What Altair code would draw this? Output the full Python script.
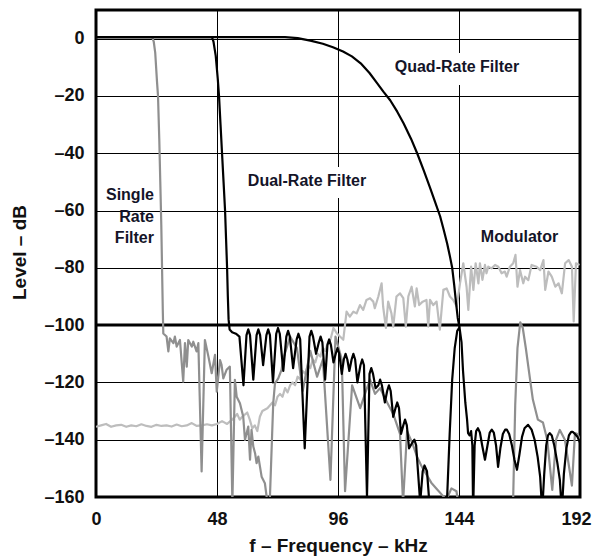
import altair as alt
import pandas as pd

# ---------------- data ----------------
freq_ticks = [0, 48, 96, 144, 192]
level_ticks = [0, -20, -40, -60, -80, -100, -120, -140, -160]

quad_x = [0, 75, 80, 85, 90, 94, 98, 101.5, 105, 108.5, 111.5, 114, 116.7, 119.5, 122, 125,
          127.4, 130, 132.5, 134.5, 136.5, 138, 139.3, 140.4, 141.3, 142.1, 142.8, 143.5, 144.2]
quad_y = [0.5, 0.5, 0.2, -0.7, -1.8, -3, -4.5, -6.2, -8.6, -12, -15.5, -18.5, -21.5, -25.5, -29.5, -35,
          -40, -46, -52, -57, -62, -67, -71.5, -76, -80, -86, -92, -97.5, -100.8]

dual_x = [0, 46, 46.6, 47.5, 48.3, 48.8, 49.4, 50, 50.6, 51.2, 51.6, 52, 52.3, 52.6, 53, 54, 55.5, 56.9,
          58.5, 59.7, 60.4, 61.1, 62.4, 63.7, 64.4, 65.1, 66.3, 67.6, 68.3, 69.0, 70.2, 71.5, 72.2, 72.9,
          74.3, 75.5, 76.2, 76.9, 78.2, 79.6, 80.3, 81.0, 82.8, 84.7, 85.4, 86.1, 87.3, 88.4, 89.1, 89.8,
          90.9, 91.8, 92.5, 93.2, 94.2, 95.1, 95.8, 96.5, 97.5, 98.3, 99.0, 99.7, 100.5, 101.4, 102.1, 102.8,
          103.7, 104.9, 105.6, 106.3, 107.5, 108.5, 109.2, 109.9, 110.9, 112.0, 112.7, 113.4, 114.6, 115.5,
          116.2, 116.9, 117.9, 118.8, 119.5, 120.2, 121.0, 121.9, 122.6, 123.3, 124.2, 125.5, 126.3, 127.0,
          128.6, 129.6, 130.3, 131.3, 132.5, 133.5, 138.5,
          139.3, 140.3, 141.3, 142.3, 143.3, 144.2, 145, 145.6, 146.5, 147.2, 147.6,
          148.2, 148.8, 149.3, 149.6, 150.2, 150.8, 151.5, 152.3, 153.2, 154.3, 155.3, 156.2, 157, 157.8,
          158.7, 159.5, 160.4, 161.4, 162.3, 163, 163.9, 165, 166, 167, 168, 169, 170, 171.4, 172.8, 174,
          175.2, 176.2, 177, 177.8, 178.6, 179.3, 180, 180.8, 181.8, 183, 184, 184.8, 185.6, 186.6, 187.6,
          188.5, 189.2, 190, 191, 192]
dual_y = [0.5, 0.5, -1, -6, -14, -20, -30, -40, -50, -60, -70, -80, -90, -98, -101.5, -102.5, -103, -104,
          -121, -103.5, -101.5, -103.5, -119, -103.5, -101.5, -103.5, -114, -103.5, -101.5, -103.5, -120, -103, -101, -103,
          -116, -104, -102, -104, -115, -105, -103, -105, -143, -104, -102, -104, -110, -106, -104, -106,
          -119, -107, -105, -107, -113, -110, -108, -110, -117, -112, -110, -112, -116, -112, -110, -112,
          -120, -114, -112, -114, -160, -117, -115, -117, -122, -121, -119, -121, -127, -123,
          -121, -123, -132, -129, -127, -129, -138, -135, -133, -135, -143, -141, -140, -142,
          -162, -151, -149, -151, -165, -175, -175,
          -160, -138, -119, -108, -102, -100.8, -106, -116, -127, -133, -137.7,
          -138.5, -137, -142, -165, -142, -137, -136, -137.5, -142, -147, -142, -137.5, -136.5, -137.5,
          -142, -149.5, -143, -138, -136.5, -136.5, -138, -142, -147, -150.5, -145, -139, -136, -134.8, -136.5, -140,
          -146, -153, -165, -152, -142, -138.5, -137.7, -138.5, -142, -148, -154, -165, -152, -143, -138.5,
          -137.3, -137.3, -138, -139, -141]

single_x = [0, 22.3, 22.9, 23.5, 24.2, 24.6, 25.1, 25.5, 25.9, 26.2, 26.5, 26.7,
            28.0, 28.7, 29.3, 30.7, 31.3, 32.0, 33.3, 34.6, 35.3, 36.0, 36.6, 38.0, 38.6, 39.9, 40.6, 41.9,
            43.2, 44.6, 45.9, 47.2, 47.9, 49.2, 49.8, 50.5, 51.8, 53.1, 54.1, 55.1, 55.8, 57.1, 58.4, 59.1,
            60.4, 61.1, 61.7, 62.4, 63.1, 63.7, 64.4, 65.7, 67.0, 67.7, 68.4, 69.0, 70.3, 71.0, 72.3, 73.6,
            74.2, 77, 79.7, 82, 85, 87.7, 90, 93, 95, 97.5, 98.8, 101.6, 104.8, 106.7, 108.7, 110.7, 112.7,
            115.5, 117.9, 120.6, 121.8, 123.4, 125.4, 127.4, 129, 131, 133, 135, 137, 139, 141, 143, 145,
            165, 165.5, 166.3, 167.2, 168.3, 169.3, 170.5, 172.2, 173.3, 175.3, 177.3, 179, 181, 182.5, 184,
            186, 188.8, 190, 191, 192]
single_y = [0.5, 0.5, -1, -5, -15, -20, -35, -50, -65, -80, -95, -102.9,
            -104, -109.2, -104.6, -106.3, -104, -107.5, -105.2, -119.7, -106.3, -114.5, -105.2, -107.5, -105.8, -109.2, -106.3, -151.1,
            -105.2, -111, -116.8, -110.4, -123.2, -112.2, -113.9, -118.6, -115.6, -114.5, -162, -119.1, -125, -127.3, -131.9, -140.1,
            -135.4, -147, -136.6, -142.4, -144.7, -148.2, -145.9, -152.9, -155.2, -160, -168, -160, -127.3, -120.3, -118.6, -115.6,
            -112, -104, -108, -123, -109, -118, -112, -154, -104, -112, -158, -121, -129, -124, -119, -124, -122,
            -127, -131, -138, -162, -137, -141, -146, -149, -152, -155, -157, -159, -161, -157, -158, -170,
            -170, -160, -128, -108, -99, -101, -108, -119, -126, -133, -134, -140, -157.5, -140, -136.6,
            -140, -156, -137.7, -138, -140]

mod_x = [0, 2, 4, 6, 8, 10, 12, 14, 16, 18, 20, 22, 24, 26, 28, 30, 32, 34, 36, 38, 40, 42, 44, 46, 48,
         50, 52, 54, 56, 57, 58, 60, 61, 62, 63, 64, 65, 66, 68, 70, 71, 72, 73, 74, 75, 76, 77, 78, 79, 80,
         81, 82, 83, 84, 85, 86, 87, 88, 89, 90, 91, 92, 93, 94.2, 95.5, 96.8, 98.1, 99.4, 100.7, 102.1,
         103.4, 104.7, 106, 107.3, 108.7, 110, 110.6, 112, 113.3, 113.9, 115, 115.9, 117.2, 117.9, 119.2,
         120.6, 121.9, 122.9, 123.9, 125.2, 126.5, 127.2, 128.2, 129.6, 131.1, 131.8, 132.5, 133.8, 135.1,
         136.4, 137.8, 139.1, 140.4, 141.7, 143.1, 144.4, 145.7, 147, 147.7, 148.8, 149.7, 150.6, 151.7,
         152.3, 153.3, 154.3, 154.9, 155.6, 156.9, 158.3, 159.6, 160.9, 162.2, 162.9, 164.2, 165.5, 166.4,
         167.2, 168.2, 169.5, 170.2, 171.5, 172.8, 174.8, 176.2, 177.5, 178.2, 179.5, 180.8, 182.2, 183.5,
         184.8, 186.1, 187.5, 188.8, 189.5, 190.4, 191.8]
mod_y = [-135.5, -135, -134.5, -135.5, -135, -134.8, -135.5, -135, -135.3, -134.6, -135.2, -135.5, -134.8,
         -135.2, -135, -135.4, -134.7, -135.3, -135, -134.2, -135.2, -135, -134.6, -135, -134.5,
         -133.5, -134.5, -133, -131, -133, -132, -130.5, -133, -136, -135, -137, -132, -130, -129, -127,
         -128, -125, -124, -125, -122, -123.5, -121, -120, -121, -118, -119, -116, -117, -114, -115, -112,
         -113, -110, -111, -108, -109, -106, -105, -101, -102.8, -104, -105.1, -95.3, -97, -95.3,
         -95.9, -93, -94.7, -91.2, -90.6, -91.8, -94.1, -90, -85.4, -93.5, -101, -91.8, -95.9, -100.5, -90,
         -88.9, -90.6, -100.5, -90, -86.6, -93.5, -87.2, -93, -91.8, -91.2, -100.5, -91.2, -93, -91.8,
         -101.6, -87.7, -87.2, -90, -91.2, -93.5, -85.4, -78.4, -86.6, -94.7, -79.6, -87.7, -78.4, -85.4,
         -78.4, -84.2, -79, -81.9, -79.6, -80.2, -79, -79.6, -81.9, -81.3, -83.1, -79.6, -78.4, -75.5,
         -86.6, -80.8, -85.4, -83.1, -84.3, -79, -79.6, -80.8, -77.3, -87.7, -81.3, -83.1, -86.6, -85.4,
         -88.9, -78.4, -77.3, -79.6, -98.7, -78.4, -79]

label_center_text = ["Quad-Rate Filter", "Dual-Rate Filter", "Modulator"]
label_center_x = [143.2, 83.7, 168.0]
label_center_y = [-9.9, -49.7, -69.1]

label_right_text = ["Single", "Rate", "Filter"]
label_right_x = [23.0, 23.0, 23.0]
label_right_y = [-54.6, -62.4, -69.7]

# white boxes behind the two labels that interrupt grid lines
box_x1 = [117.0, 58.3]
box_x2 = [169.8, 109.1]
box_y1 = [-5.0, -44.8]
box_y2 = [-16.2, -55.6]

# ---------------- helpers ----------------
def frame(xs, ys):
    assert len(xs) == len(ys), (len(xs), len(ys))
    return pd.DataFrame({"f": xs, "level": ys})

FONT = "Liberation Sans"

x_enc = alt.X("f:Q", scale=alt.Scale(domain=[0, 192], nice=False, zero=False),
              axis=alt.Axis(values=freq_ticks, title="f – Frequency – kHz", grid=True, gridColor="#000",
                            gridWidth=1, gridOpacity=1, ticks=False, tickSize=0, domain=False,
                            labelFont=FONT, labelFontSize=18, labelFontWeight="bold", labelColor="#111",
                            labelPadding=22, labelBaseline="middle", labelFlush=False,
                            labelOffset={"condition": {"test": "datum.value == 192", "value": -4}, "value": 0},
                            titleFont=FONT, titleFontSize=19, titleFontWeight="bold", titleColor="#111",
                            titleY=48, titleBaseline="middle"))
y_enc = alt.Y("level:Q", scale=alt.Scale(domain=[-160, 10], nice=False, zero=False),
              axis=alt.Axis(values=level_ticks, title="Level – dB", grid=True, gridColor="#000",
                            gridWidth=1, gridOpacity=1, ticks=False, tickSize=0, domain=False,
                            labelFont=FONT, labelFontSize=18, labelFontWeight="bold", labelColor="#111",
                            labelPadding=12, labelFlush=False,
                            labelExpr="datum.value < 0 ? '–' + abs(datum.value) : '' + datum.value",
                            titleFont=FONT, titleFontSize=19, titleFontWeight="bold", titleColor="#111",
                            titleAngle=270, titleX=-77, titleY=242, titleBaseline="middle",
                            titleAlign="center"))

boxes = alt.Chart(pd.DataFrame({"f": box_x1, "f2": box_x2, "level": box_y1, "level2": box_y2})).mark_rect(
    color="white").encode(x=x_enc, x2="f2:Q", y=y_enc, y2="level2:Q")

rule100 = alt.Chart(pd.DataFrame({"level": [-100]})).mark_rule(color="#000", strokeWidth=3).encode(y=y_enc)

def line(df, color, width):
    return alt.Chart(df).mark_line(color=color, strokeWidth=width, clip=True,
                                   strokeJoin="round").encode(x=x_enc, y=y_enc)

mod_line = line(frame(mod_x, mod_y), "#bdbdbd", 2.2)
single_line = line(frame(single_x, single_y), "#8f8f8f", 2.2)
dual_line = line(frame(dual_x, dual_y), "#000", 2.2)
quad_line = line(frame(quad_x, quad_y), "#000", 2.2)

text_c = alt.Chart(pd.DataFrame({"f": label_center_x, "level": label_center_y, "t": label_center_text})).mark_text(
    font=FONT, fontSize=16, fontWeight="bold", color="#141428", align="center", baseline="middle").encode(
    x=x_enc, y=y_enc, text="t:N")
text_r = alt.Chart(pd.DataFrame({"f": label_right_x, "level": label_right_y, "t": label_right_text})).mark_text(
    font=FONT, fontSize=16, fontWeight="bold", color="#141428", align="right", baseline="middle").encode(
    x=x_enc, y=y_enc, text="t:N")

chart = alt.layer(boxes, rule100, mod_line, single_line, dual_line, quad_line, text_c, text_r).properties(
    width=484, height=487, autosize="none",
    padding={"left": 88, "top": 2, "right": 12, "bottom": 60},
    background="white",
).configure_view(stroke="#000", strokeWidth=3)

chart.save("out.html", embed_options={"renderer": "svg", "actions": False})
